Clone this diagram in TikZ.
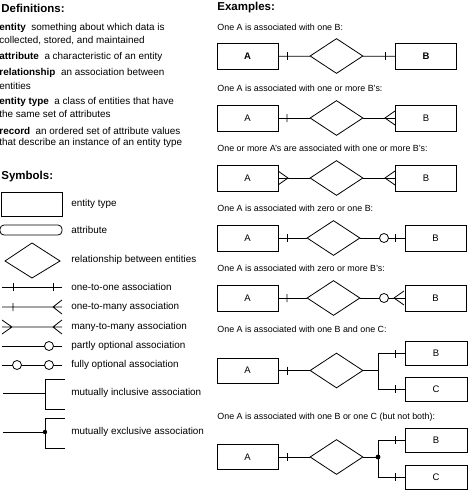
\documentclass[tikz,border=0pt]{standalone}
\usepackage{fontspec}
\setmainfont{Liberation Sans}
\usetikzlibrary{shapes.geometric}
\begin{document}
\begin{tikzpicture}[x=1pt,y=-1pt,line width=0.8pt,
  txt/.style={anchor=west,inner sep=0pt,font=\fontsize{9.9}{12}\selectfont},
  captxt/.style={anchor=west,inner sep=0pt,font=\fontsize{8.9}{11}\selectfont},
  hdr/.style={anchor=west,inner sep=0pt,font=\fontsize{11.5}{13}\selectfont\bfseries},
  ent/.style={draw,minimum width=61pt,minimum height=26pt,inner sep=0pt,font=\fontsize{9.5}{11}\selectfont},
  rel/.style={draw,shape=diamond,minimum width=53pt,minimum height=35pt,inner sep=0pt},
  oc/.style={draw,circle,fill=white,minimum size=9pt,inner sep=0pt}]
\useasboundingbox (0,0) rectangle (474,490);
% Definitions
\node[hdr] (dh) at (1,8) {Definitions:};
\node[txt] (d1) at (-1,28) {\textbf{entity}\ \ something about which data is};
\node[txt] (d1b) at (-1,41) {collected, stored, and maintained};
\node[txt] (d2) at (-1,57) {\textbf{attribute}\ \ a characteristic of an entity};
\node[txt] (d3) at (-1,73) {\textbf{relationship}\ \ an association between};
\node[txt] (d3b) at (-1,86) {entities};
\node[txt] (d4) at (-1,102) {\textbf{entity type}\ \ a class of entities that have};
\node[txt] (d4b) at (-1,114) {the same set of attributes};
\node[txt] (d5) at (-1,131) {\textbf{record}\ \ an ordered set of attribute values};
\node[txt] (d5b) at (-1,143) {that describe an instance of an entity type};
\node[hdr] (sh) at (1,177) {Symbols:};
% Symbols
\draw (1,192) rectangle (62,216);
\node[txt] (s1) at (71,204) {entity type};
\draw[rounded corners=4pt] (0,225) rectangle (62,235);
\node[txt] (s2) at (71,230) {attribute};
\draw (5,261) -- (32,243) -- (60,261) -- (32,278) -- cycle;
\node[txt] (s3) at (71,260) {relationship between entities};
\draw (2,287) -- (62,287) (13,283) -- (13,291) (53,283) -- (53,291);
\node[txt] (s4) at (71,287) {one-to-one association};
\draw (2,307) -- (62,307) (13,303) -- (13,311) (62,300) -- (53,307) -- (62,314);
\node[txt] (s5) at (71,307) {one-to-many association};
\draw (2,327) -- (62,327) (2,320) -- (12,327) -- (2,334) (62,320) -- (53,327) -- (62,334);
\node[txt] (s6) at (71,327) {many-to-many association};
\draw (2,346) -- (62,346);
\draw[fill=white] (49,346) circle (4.5);
\node[txt] (s7) at (71,346) {partly optional association};
\draw (2,365) -- (62,365);
\draw[fill=white] (17,365) circle (4.5) (49,365) circle (4.5);
\node[txt] (s8) at (71,365) {fully optional association};
\draw (3,393) -- (45,393) (65,379) -- (45,379) -- (45,409) -- (65,409);
\node[txt] (s9) at (71,393) {mutually inclusive association};
\draw (3,432) -- (45,432) (65,418) -- (45,418) -- (45,448) -- (65,448);
\fill (45,432) circle (2.2);
\node[txt] (s10) at (71,432) {mutually exclusive association};
% Examples
\node[hdr] (eh) at (217,8) {Examples:};
% Ex1
\node[captxt] (c1) at (217,27) {One A is associated with one B:};
\node[ent] (a1) at (247.5,56.5) {\textbf{A}};
\node[rel] (r1) at (336.5,56) {};
\node[ent] (b1) at (426,56.5) {\textbf{B}};
\draw (a1) -- (r1) (r1) -- (b1);
\draw (287,52) -- (287,60) (385,52) -- (385,60);
% Ex2
\node[captxt] (c2) at (217,88) {One A is associated with one or more B's:};
\node[ent] (a2) at (247.5,118) {A};
\node[rel] (r2) at (336.5,118) {};
\node[ent] (b2) at (426,118) {B};
\draw (a2) -- (r2) (r2) -- (b2);
\draw (287,114) -- (287,122) (395,111) -- (385,118) -- (395,125);
% Ex3
\node[captxt] (c3) at (217,148) {One or more A's are associated with one or more B's:};
\node[ent] (a3) at (247.5,178) {A};
\node[rel] (r3) at (336.5,178) {};
\node[ent] (b3) at (426,178) {B};
\draw (a3) -- (r3) (r3) -- (b3);
\draw (278,171) -- (288,178) -- (278,185) (395,171) -- (385,178) -- (395,185);
% Ex4
\node[captxt] (c4) at (217,208) {One A is associated with zero or one B:};
\node[ent] (a4) at (247.5,238) {A};
\node[rel] (r4) at (333.5,238) {};
\node[ent] (b4) at (435.5,238) {B};
\draw (a4) -- (r4) (r4) -- (b4);
\draw (287,234) -- (287,242) (395,234) -- (395,242);
\node[oc] (o4) at (384,238) {};
% Ex5
\node[captxt] (c5) at (217,268) {One A is associated with zero or more B's:};
\node[ent] (a5) at (247.5,298) {A};
\node[rel] (r5) at (333.5,298) {};
\node[ent] (b5) at (435.5,298) {B};
\draw (a5) -- (r5) (r5) -- (b5);
\draw (287,294) -- (287,302) (404,291) -- (394,298) -- (404,305);
\node[oc] (o5) at (384,298) {};
% Ex6
\node[captxt] (c6) at (217,329) {One A is associated with one B and one C:};
\node[ent,minimum height=25pt] (a6) at (247.5,370.5) {A};
\node[rel] (r6) at (336.5,370.5) {};
\node[ent,minimum width=62pt,minimum height=24pt] (b6) at (436,353.5) {B};
\node[ent,minimum width=62pt,minimum height=24pt] (c6b) at (436,389) {C};
\coordinate (j6) at (378,370.5);
\draw (a6) -- (r6) (r6) -- (j6) (j6) |- (b6) (j6) |- (c6b);
\draw (287,366.5) -- (287,374.5) (395,349.5) -- (395,357.5) (395,385) -- (395,393);
% Ex7
\node[captxt] (c7) at (217,417) {One A is associated with one B or one C (but not both):};
\node[ent,minimum height=25pt] (a7) at (247.5,457) {A};
\node[rel] (r7) at (336.5,457) {};
\node[ent,minimum width=62pt,minimum height=24pt] (b7) at (436,440) {B};
\node[ent,minimum width=62pt,minimum height=24pt] (c7b) at (436,477) {C};
\coordinate (j7) at (378,457);
\draw (a7) -- (r7) (r7) -- (j7) (j7) |- (b7) (j7) |- (c7b);
\fill (j7) circle (2.4);
\draw (287,453) -- (287,461) (395,436) -- (395,444) (395,473) -- (395,481);
\end{tikzpicture}
\end{document}
